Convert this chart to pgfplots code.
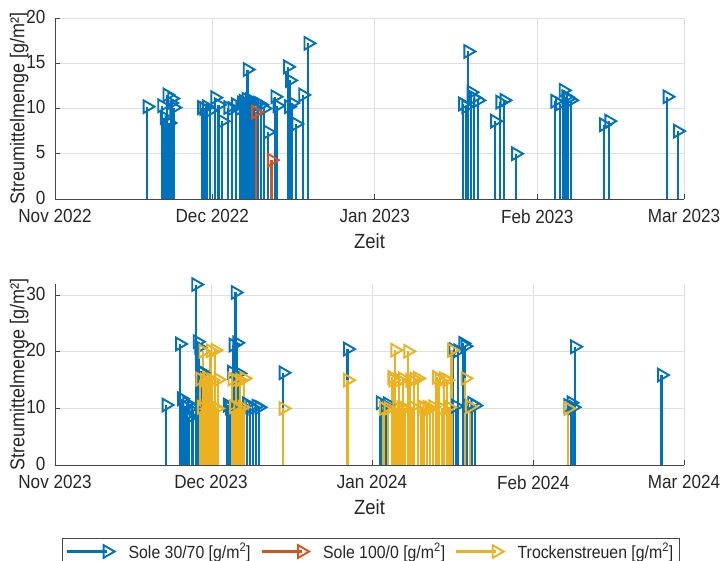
\documentclass[border=0pt]{standalone}
\usepackage{fontspec}
\setmainfont{Liberation Sans}[FakeStretch=0.9]
\usepackage{pgfplots}
\pgfplotsset{compat=1.18}
\definecolor{mblue}{RGB}{0,114,189}
\definecolor{morange}{RGB}{217,83,25}
\definecolor{myellow}{RGB}{237,177,32}
\definecolor{axgray}{RGB}{70,70,70}
\definecolor{gridgray}{RGB}{223,223,223}
\pgfplotsset{
  /pgf/number format/assume math mode=true,
  stem/.style={ycomb, color=#1, line width=2.4pt, mark=triangle, mark size=7.3pt,
    mark options={solid, rotate=-90, line width=1.9pt},
    legend image code/.code={\draw[##1, sharp plot, mark indices={2}] plot coordinates {(0pt,0pt) (40pt,0pt)};}},
  mystyle/.style={scale only axis, width=629pt, height=181pt,
    axis x line*=bottom, axis y line*=left,
    axis line style={axgray, line width=0.9pt},
    tick style={axgray, line width=0.9pt}, tick align=inside, major tick length=5pt,
    grid=major, major grid style={gridgray, line width=0.9pt},
    tick label style={font=\fontsize{19}{22}\selectfont, text=black!85, inner sep=1pt},
    xticklabel style={yshift=-9.5pt},
    yticklabel style={xshift=-8.3pt, yshift=1.5pt},
    xlabel={Zeit}, ylabel={Streumittelmenge [g/m²]},
    every axis x label/.style={at={(axis description cs:0.5,-0.235)}, anchor=center,
      font=\fontsize{20.5}{24}\selectfont, text=black!85},
    every axis y label/.style={at={(axis description cs:-0.057,0.5)}, rotate=90, anchor=center,
      font=\fontsize{20}{24}\selectfont, text=black!85},
    xtick={0,30,61,92,120}, xmin=0, ymin=0, clip=false},
}
\pgfplotstableread{
x y
17.6 10.2
20.4 10.3
20.9 9.0
21.4 11.5
21.8 8.4
22.1 10.6
22.3 11.1
22.7 10.1
28.0 10.1
28.4 10.0
28.9 10.2
29.6 9.8
30.5 11.2
31.2 10.4
31.9 8.6
33.0 10.1
33.8 10.0
34.5 10.4
35.3 10.0
35.6 10.6
35.9 10.8
36.1 10.2
36.3 10.5
36.5 11.0
36.7 14.3
36.9 10.4
37.1 11.0
37.3 10.8
37.5 10.6
37.9 10.2
38.7 10.6
39.3 10.4
39.9 10.0
40.6 7.4
42.0 11.3
42.4 10.3
44.4 14.6
44.6 10.2
44.8 13.1
45.2 10.6
46.0 8.3
47.3 11.5
48.3 17.2
77.8 10.5
78.4 10.2
78.8 16.3
79.4 11.8
79.9 11.2
80.7 10.9
83.9 8.6
84.9 10.7
85.7 10.9
87.9 5.0
95.4 10.8
96.3 10.5
97.0 12.0
97.5 11.3
97.9 11.1
98.4 10.9
104.7 8.2
105.7 8.6
116.8 11.3
118.8 7.5
}\topblue
\pgfplotstableread{
x y
38.3 9.6
41.3 4.3
}\toporange
\pgfplotstableread{
x y
21.4 10.6
24.0 21.4
24.4 11.7
24.9 10.4
25.4 10.9
25.8 8.4
26.3 10.2
26.6 9.5
27.1 31.9
27.4 21.8
27.7 20.8
28.0 16.6
28.3 16.3
33.2 10.6
33.6 10.1
34.0 16.4
34.3 21.2
34.7 30.5
35.0 21.6
35.4 16.2
36.9 10.8
37.5 10.3
38.1 10.1
38.7 10.4
39.3 10.2
43.9 16.3
56.3 20.5
62.6 11.0
63.5 10.5
64.0 10.8
76.6 20.4
77.1 10.4
77.5 20.2
78.5 21.5
78.9 21.0
79.3 10.5
80.2 10.9
80.8 10.5
98.7 10.5
99.3 11.0
99.7 10.2
100.0 20.9
116.7 15.9
}\botblue
\pgfplotstableread{
x y
27.9 15.2
28.2 10.2
28.5 20.1
28.8 15.0
29.1 10.3
29.3 15.3
29.6 10.0
29.9 20.2
30.2 15.0
30.5 10.4
30.8 20.3
31.1 10.0
31.4 15.1
34.1 15.2
34.4 10.3
34.8 15.0
35.2 10.1
35.6 15.0
36.0 10.2
36.4 15.3
43.9 10.0
56.3 15.0
63.2 10.0
64.1 10.0
64.8 15.5
65.0 15.0
65.4 20.3
65.8 10.0
66.2 15.0
66.6 10.1
66.9 15.2
67.3 10.0
67.9 20.1
68.3 15.0
68.7 10.3
69.1 15.2
69.8 15.3
70.5 10.3
71.0 10.1
71.6 10.2
72.1 10.0
72.7 10.3
73.4 15.5
73.9 15.0
74.4 10.0
74.8 15.2
75.4 15.0
75.8 10.2
76.3 20.3
78.9 15.3
79.8 10.3
98.7 10.0
}\botyellow
\begin{document}
\begin{tikzpicture}
\path[use as bounding box] (0pt,0pt) rectangle (720pt,561pt);
\begin{axis}[mystyle, at={(55pt,362pt)}, anchor=south west,
  xmax=120, ymax=20, ytick={0,5,10,15,20},
  xticklabels={Nov 2022,Dec 2022,Jan 2023,Feb 2023,Mar 2023}]
\addplot[stem=mblue] table {\topblue};
\addplot[stem=morange] table {\toporange};
\end{axis}
\begin{axis}[mystyle, at={(55pt,96pt)}, anchor=south west,
  xmax=121, ymax=32, ytick={0,10,20,30},
  xtick={0,30,61,92,121},
  xticklabels={Nov 2023,Dec 2023,Jan 2024,Feb 2024,Mar 2024},
  legend columns=3,
  legend style={at={(0.502,-0.403)}, anchor=north, draw=axgray, line width=0.8pt,
    font=\fontsize{17.6}{20}\selectfont, text=black!85, inner xsep=4pt, inner ysep=3pt,
    /tikz/every odd column/.append style={column sep=12pt},
    /tikz/every even column/.append style={column sep=8pt}}]
\addplot[stem=mblue] table {\botblue};
\addlegendentry{Sole 30/70 [g/m\textsuperscript{2}]}
\addlegendimage{stem=morange}
\addlegendentry{Sole 100/0 [g/m\textsuperscript{2}]}
\addplot[stem=myellow] table {\botyellow};
\addlegendentry{Trockenstreuen [g/m\textsuperscript{2}]}
\end{axis}
\end{tikzpicture}
\end{document}
